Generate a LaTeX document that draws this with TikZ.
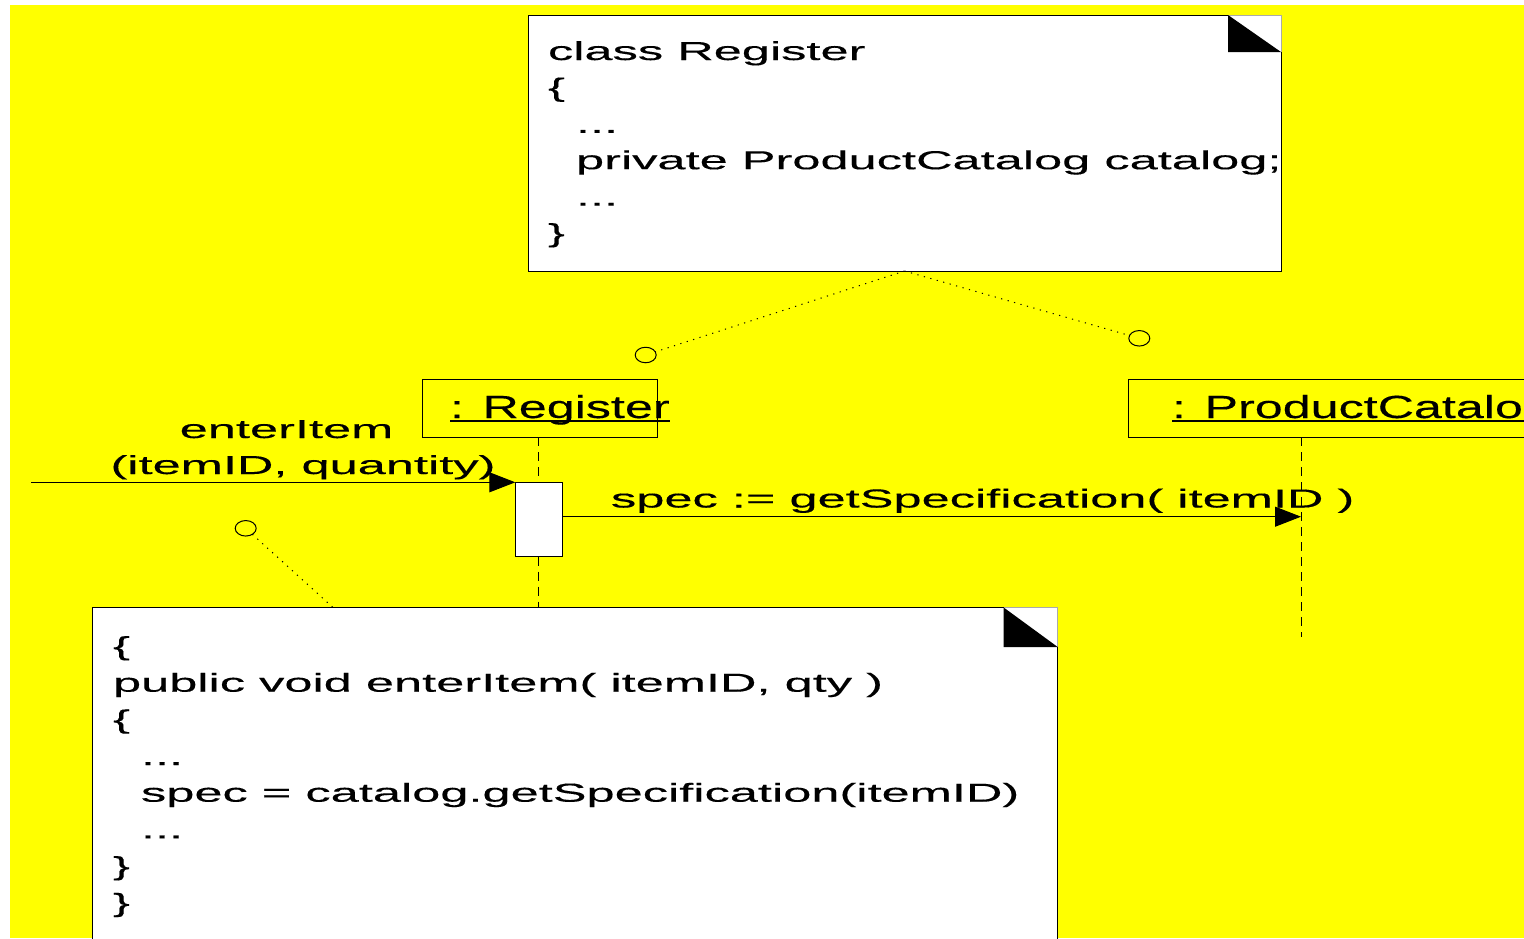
\documentclass[tikz,border=0pt]{standalone}
\usepackage{fontspec}
\usetikzlibrary{arrows.meta,shapes.geometric,calc}
\newfontfamily\umlfont[FakeStretch=1.945,FakeBold=0.3]{Liberation Sans}
\newfontfamily\objfont[FakeStretch=1.57,FakeBold=0.3]{Liberation Sans}
\definecolor{bgyellow}{RGB}{255,255,0}
\definecolor{foldgray}{RGB}{170,170,170}

% note outline with a dog-eared top right corner: #1 node, #2 fold width, #3 fold height
\newcommand\drawnotefold[3]{%
  \draw[border] ([xshift=-#2]#1.north east) -- (#1.north west) -- (#1.south west)
        -- (#1.south east) -- ([yshift=-#3]#1.north east);
  \draw[foldgray, line width=0.8pt] ([xshift=-#2]#1.north east) -- (#1.north east)
        -- ([yshift=-#3]#1.north east);
  \fill ([xshift=-#2]#1.north east) -- ([xshift=-#2,yshift=-#3]#1.north east)
        -- ([yshift=-#3]#1.north east) -- cycle;
}

\begin{document}
\begin{tikzpicture}[x=1pt,y=-1pt,
  every node/.style={inner sep=0pt, outer sep=0pt},
  border/.style={draw=black, line width=1pt},
  notefill/.style={rectangle, fill=white, draw=none},
  objbox/.style={rectangle, draw=black, line width=1pt},
  actbox/.style={rectangle, draw=black, fill=white, line width=1pt},
  anchorring/.style={ellipse, draw=black, line width=1pt, minimum width=21pt, minimum height=15.5pt},
  txt/.style={anchor=base west, font=\umlfont\fontsize{26}{36}\selectfont},
  lbl/.style={anchor=base, font=\umlfont\fontsize{26}{36}\selectfont},
  objtxt/.style={anchor=base west, font=\objfont\fontsize{32}{38}\selectfont},
  lifeline/.style={draw=black, line width=1pt, dash pattern=on 9pt off 6pt},
  notelink/.style={draw=black, line width=1pt, dash pattern=on 1.2pt off 5.5pt},
  msg/.style={draw=black, line width=1pt, -{Triangle[length=26pt,width=20pt]}},
  underl/.style={draw=black, line width=2.6pt}
]
\useasboundingbox (0,0) rectangle (1524,938);
\clip (0,0) rectangle (1524,938);
\fill[bgyellow] (10,5) rectangle (1524,938);

% ---- note: class Register ----
\node[notefill, minimum width=753pt, minimum height=256pt] (topnote) at (904.5,143) {};
\drawnotefold{topnote}{53pt}{37pt}
\begin{scope}
  \clip (topnote.north west) rectangle (topnote.south east);
  \node[txt] (r1) at (548,60)    {class Register};
  \node[txt] (r2) at (548,96.4)  {\{};
  \node[txt] (r3) at (576,132.8) {...};
  \node[txt] (r4) at (576,169.2) {private ProductCatalog catalog;};
  \node[txt] (r5) at (576,205.6) {...};
  \node[txt] (r6) at (548,242)   {\}};
\end{scope}

% ---- note: enterItem method ----
\node[notefill, minimum width=965pt, minimum height=353pt] (codenote) at (575.2,784) {};
\drawnotefold{codenote}{54pt}{39.5pt}
\node[txt] (e1) at (113,655)   {\{};
\node[txt] (e2) at (113,691.7) {public void enterItem( itemID, qty )};
\node[txt] (e3) at (113,728.3) {\{};
\node[txt] (e4) at (141,765)   {...};
\node[txt] (e5) at (141,801.7) {spec = catalog.getSpecification(itemID)};
\node[txt] (e6) at (141,838.3) {...};
\node[txt] (e7) at (113,875)   {\}};
\node[txt] (e8) at (113,911.7) {\}};

% ---- lifeline heads ----
\node[objbox, minimum width=235.5pt, minimum height=58.3pt] (regbox) at (540,408.2) {};
\node[objtxt] (regname) at (450,418) {: Register};
\draw[underl] ([yshift=-3pt]regname.base west) -- ([yshift=-3pt]regname.base east);

\node[objbox, minimum width=420pt, minimum height=58.3pt] (catbox) at (1338,408.2) {};
\node[objtxt] (catname) at (1172,418) {: ProductCatalog};
\draw[underl] ([yshift=-3pt]catname.base west) -- ([yshift=-3pt]catname.base east);

% ---- activation and lifelines ----
\node[actbox, minimum width=47pt, minimum height=74.4pt] (act) at (538.8,519.5) {};
\draw[lifeline] (act.north |- regbox.south) -- (act.north);
\draw[lifeline] (act.south) -- (act.south |- codenote.north);

\coordinate (cattop) at (1301,437.3);
\coordinate (catend) at (1301,637);
\draw[lifeline] (cattop) -- (catend);

% ---- messages ----
\coordinate (caller) at (31,482.3);
\draw[msg] (caller) -- (act.north west);
\node[lbl] (m1a) at (286.5,438) {enterItem};
\node[lbl] (m1b) at (303,474) {(itemID, quantity)};

\coordinate (m2end) at (1301,516.7);
\draw[msg] (act.east |- m2end) -- (m2end);
\node[txt] (m2) at (611,507.5) {spec := getSpecification( itemID )};

% ---- note attachment rings ----
\node[anchorring] (ring1) at (645.7,355) {};
\node[anchorring] (ring2) at (1139.3,338.3) {};
\node[anchorring] (ring3) at (245.7,528.3) {};
\coordinate (codeattach) at (333,607.5);
\draw[notelink] (topnote.south) -- (ring1);
\draw[notelink] (topnote.south) -- (ring2);
\draw[notelink] (ring3) -- (codeattach);
\end{tikzpicture}
\end{document}
